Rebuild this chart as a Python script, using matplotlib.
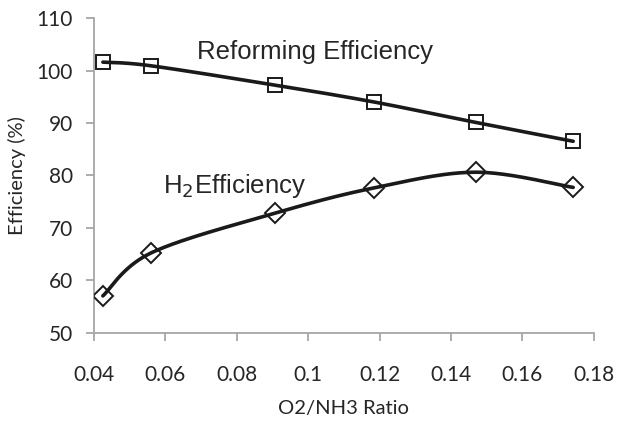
import numpy as np
import matplotlib
matplotlib.use("Agg")
import matplotlib.pyplot as plt

# O2/NH3 ratio and efficiencies
ratio = [0.0425, 0.0560, 0.0908, 0.1184, 0.1469, 0.1742]
reforming_eff = [101.6, 100.9, 97.2, 94.0, 90.1, 86.5]
h2_eff = [57.0, 65.2, 72.8, 77.6, 80.6, 77.7]

x_ticks = [0.04, 0.06, 0.08, 0.1, 0.12, 0.14, 0.16, 0.18]
x_tick_labels = ["0.04", "0.06", "0.08", "0.1", "0.12", "0.14", "0.16", "0.18"]
y_ticks = [50, 60, 70, 80, 90, 100, 110]


def smooth_curve(xs, ys, n=40):
    """Excel-like smoothed line: cubic bezier segments with catmull-rom control points"""
    pts = np.column_stack([xs, ys]).astype(float)
    ext = np.vstack([pts[0], pts, pts[-1]])
    out = []
    t = np.linspace(0, 1, n)[:, None]
    for i in range(1, len(ext) - 2):
        p0, p1, p2, p3 = ext[i - 1], ext[i], ext[i + 1], ext[i + 2]
        c1 = p1 + (p2 - p0) / 6.0
        c2 = p2 - (p3 - p1) / 6.0
        seg = ((1 - t) ** 3) * p1 + 3 * ((1 - t) ** 2) * t * c1 + 3 * (1 - t) * t ** 2 * c2 + t ** 3 * p2
        out.append(seg if i == 1 else seg[1:])
    out = np.vstack(out)
    return out[:, 0], out[:, 1]


tick_font = "Lato"
label_font = "Liberation Sans"
grey = "#a6a6a6"

fig = plt.figure(figsize=(6.18, 4.21), dpi=100)
ax = fig.add_axes([0.152, 0.21, 0.809, 0.747])

for ys, marker, ms in [(reforming_eff, "s", 10), (h2_eff, "D", 10.5)]:
    sx, sy = smooth_curve(ratio, ys)
    ax.plot(sx, sy, color="#1a1a1a", lw=2.6, solid_capstyle="round", zorder=2)
    ax.plot(ratio, ys, linestyle="none", marker=marker, markersize=ms,
            markerfacecolor="none", markeredgecolor="#1a1a1a", markeredgewidth=1.4, zorder=3)

ax.set_xlim(0.04, 0.18)
ax.set_ylim(50, 110)
ax.set_xticks(x_ticks)
ax.set_xticklabels(x_tick_labels)
ax.set_yticks(y_ticks)

for side in ["top", "right"]:
    ax.spines[side].set_visible(False)
for side in ["left", "bottom"]:
    ax.spines[side].set_color(grey)
    ax.spines[side].set_linewidth(1.3)
ax.tick_params(axis="both", colors=grey, length=6, width=1.3, direction="out",
               labelcolor="#262626", labelsize=15)
ax.tick_params(axis="x", pad=17)
ax.tick_params(axis="y", pad=9)
for lab in ax.get_xticklabels() + ax.get_yticklabels():
    lab.set_fontfamily(tick_font)

ax.set_xlabel("O2/NH3 Ratio", fontfamily=tick_font, fontsize=14.5, color="#262626", labelpad=11)
ax.set_ylabel("Efficiency (%)", fontfamily=tick_font, fontsize=14.5, color="#262626", labelpad=8)

ax.text(0.0688, 103.5, "Reforming Efficiency", fontfamily=label_font, fontsize=18.5,
        color="#262626", va="center", ha="left")
ax.text(0.0593, 78.0, "H$_2$Efficiency", fontfamily=label_font, fontsize=18.5,
        color="#262626", va="center", ha="left")

fig.savefig("out.png", dpi=100)
